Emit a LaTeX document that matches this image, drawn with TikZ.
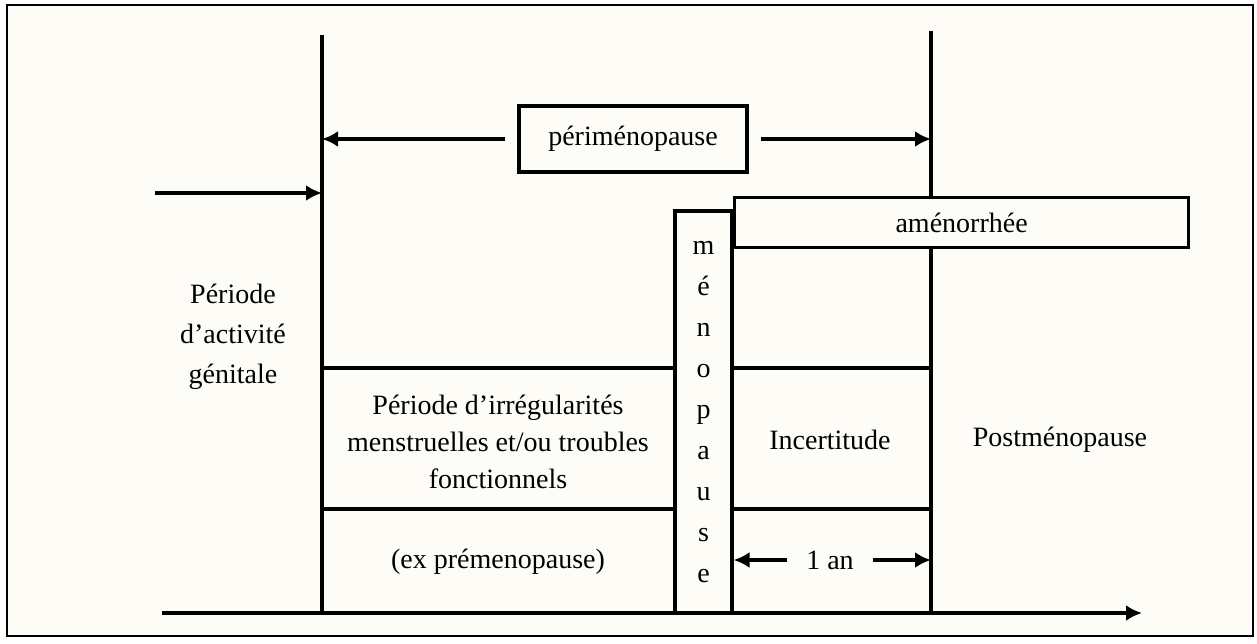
\documentclass[tikz,border=0pt]{standalone}
\usepackage{fontspec}
\setmainfont{Liberation Serif}
\usetikzlibrary{arrows.meta,positioning}
\definecolor{paper}{RGB}{253,252,246}
\begin{document}
\begin{tikzpicture}[
      x=0.5pt, y=-0.5pt,
      every node/.style={font=\fontsize{14}{18.5}\selectfont},
      box/.style={draw, line width=1.6pt, fill=paper, inner sep=0pt, align=center},
      ln/.style={line width=1.6pt},
      arr/.style={-{Latex[length=8pt,width=8pt]}, line width=1.6pt},
    ]
    \useasboundingbox (0,0) rectangle (1257,643);
    \draw[line width=1.3pt, fill=paper] (7,5) rectangle (1253,636);
    \coordinate (lvtop) at (322,35);
    \coordinate (lvbot) at (322,613);
    \coordinate (rvtop) at (931,31);
    \coordinate (rvbot) at (931,613);
    \coordinate (axs) at (162,613);
    \coordinate (axe) at (1142,613);
    \coordinate (entry) at (155,193);
    \coordinate (hup) at (0,368);
    \coordinate (hlow) at (0,509);
    \draw[ln] (lvtop) -- (lvbot);
    \draw[ln] (rvtop) -- (rvbot);
    \draw[arr] (axs) -- (axe);
    \draw[arr] (entry) -- (entry -| lvtop);
    \node[box, minimum width=114pt, minimum height=33pt] (peri) at (633,139) {périménopause};
    \node[box, minimum width=28.5pt, minimum height=201pt, font=\fontsize{14}{20.5}\selectfont] (meno) at (703.5,412) {m\\é\\n\\o\\p\\a\\u\\s\\e};
    \node[box, minimum width=227pt, minimum height=25pt, anchor=north west] (amen) at (733,196) {aménorrhée};
    \draw[arr] ([xshift=-6pt]peri.west) -- (peri.west -| lvtop);
    \draw[arr] ([xshift=6pt]peri.east) -- (peri.east -| rvtop);
    \draw[ln] (hup -| lvtop) -- (hup -| meno.west);
    \draw[ln] (hup -| meno.east) -- (hup -| rvtop);
    \draw[ln] (hlow -| lvtop) -- (hlow -| meno.west);
    \draw[ln] (hlow -| meno.east) -- (hlow -| rvtop);
    \node[align=center, font=\fontsize{14}{20}\selectfont] (activ) at (233,337) {Période\\d’activité\\génitale};
    \node[align=center] (irreg) at (498,442) {Période d’irrégularités\\menstruelles et/ou troubles\\fonctionnels};
    \node (expre) at (498,562) {(ex prémenopause)};
    \node (incert) at (830,440) {Incertitude};
    \node (post) at (1060,440) {Postménopause};
    \node (an) at (830,560) {1 an};
    \draw[arr] ([xshift=-6pt]an.west) -- (an.west -| meno.east);
    \draw[arr] ([xshift=6pt]an.east) -- (an.east -| rvtop);
  \end{tikzpicture}
\end{document}
